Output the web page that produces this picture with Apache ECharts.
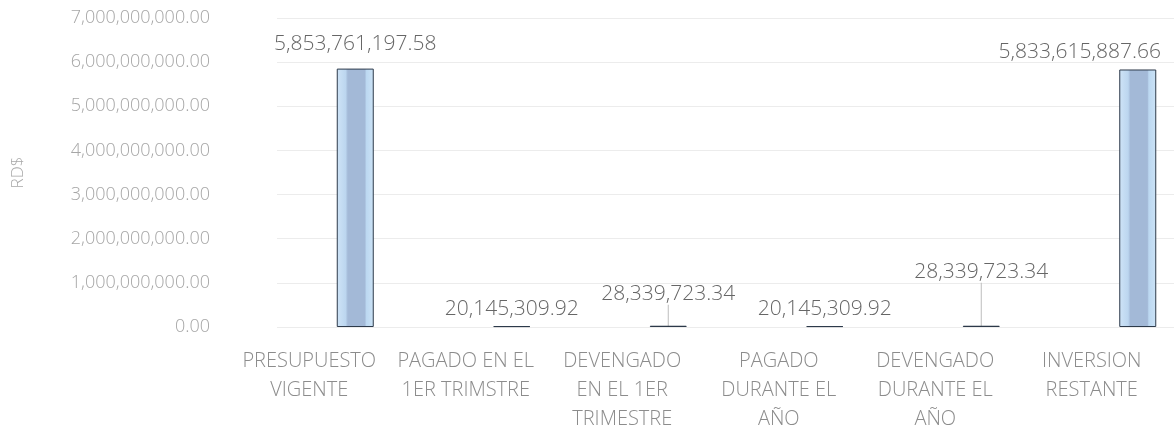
<!DOCTYPE html>
<html>
<head>
<meta charset="utf-8">
<script src="https://cdn.jsdelivr.net/npm/echarts@6/dist/echarts.min.js"></script>
<style>
  html, body { margin: 0; padding: 0; background: #fff; }
  #chart { width: 1174px; height: 440px; }
</style>
</head>
<body>
<div id="chart"></div>
<script>
// data
const categories = [
    'PRESUPUESTO\nVIGENTE',
    'PAGADO EN EL\n1ER TRIMSTRE',
    'DEVENGADO\nEN EL 1ER\nTRIMESTRE',
    'PAGADO\nDURANTE EL\nAÑO',
    'DEVENGADO\nDURANTE EL\nAÑO',
    'INVERSION\nRESTANTE'
];
const values = [5853761197.58, 20145309.92, 28339723.34, 20145309.92, 28339723.34, 5833615887.66];
const yTicks = [0, 1e9, 2e9, 3e9, 4e9, 5e9, 6e9, 7e9];

// where the value labels were pushed (px), and which ones get a leader line
const labelMoves = [[0, -9], [0, -2], [0, -16], [0, -2], [0, -38], [-58, -2]];
const withLine = [2, 4];

const fmt = new Intl.NumberFormat('en-US', {minimumFractionDigits: 2, maximumFractionDigits: 2});
const font = '"Open Sans", "Liberation Sans", sans-serif';

const barFill = new echarts.graphic.LinearGradient(0, 0, 1, 0, [
    {offset: 0, color: '#cfe4f7'},
    {offset: 0.24, color: '#bcd6ef'},
    {offset: 0.3, color: '#a3b9d7'},
    {offset: 0.76, color: '#a3b9d7'},
    {offset: 0.8, color: '#bcd8f1'},
    {offset: 1, color: '#cce3f6'}
]);

let chart = echarts.init(document.getElementById('chart'));

let option = {
    animation: false,
    backgroundColor: '#ffffff',
    grid: {left: 277, right: -42, top: 18, bottom: 113, containLabel: false, outerBoundsMode: 'none'},
    xAxis: {
        type: 'category',
        data: categories,
        axisLine: {show: false},
        axisTick: {show: false},
        axisLabel: {
            interval: 0,
            margin: 20,
            color: '#8c8c8c',
            fontFamily: font,
            fontWeight: 300,
            fontSize: 20,
            lineHeight: 29,
            padding: [0, 92, 0, 0]
        }
    },
    yAxis: {
        type: 'value',
        min: yTicks[0],
        max: yTicks[yTicks.length - 1],
        interval: yTicks[1] - yTicks[0],
        name: 'RD$',
        nameLocation: 'middle',
        nameGap: 250,
        nameTextStyle: {color: '#a8a8a8', fontFamily: font, fontWeight: 300, fontSize: 17},
        axisLine: {show: false},
        axisTick: {show: false},
        splitLine: {lineStyle: {color: '#ececec', width: 1}},
        axisLabel: {
            margin: 67,
            color: '#a6a6a6',
            fontFamily: font,
            fontWeight: 300,
            fontSize: 18,
            formatter: (v) => fmt.format(v)
        }
    },
    series: [{
        type: 'bar',
        barWidth: 37,
        data: values.map((v, i) => ({
            value: v,
            labelLine: {show: withLine.includes(i)}
        })),
        itemStyle: {color: barFill, borderColor: '#2d3a4a', borderWidth: 1},
        label: {
            show: true,
            position: 'top',
            distance: 5,
            color: '#666666',
            fontFamily: font,
            fontWeight: 300,
            fontSize: 21,
            formatter: (p) => fmt.format(p.value)
        },
        labelLine: {lineStyle: {color: '#bdbdbd', width: 1}},
        labelLayout: (p) => ({dx: labelMoves[p.dataIndex][0], dy: labelMoves[p.dataIndex][1]})
    }]
};

chart.setOption(option);
</script>
</body>
</html>
